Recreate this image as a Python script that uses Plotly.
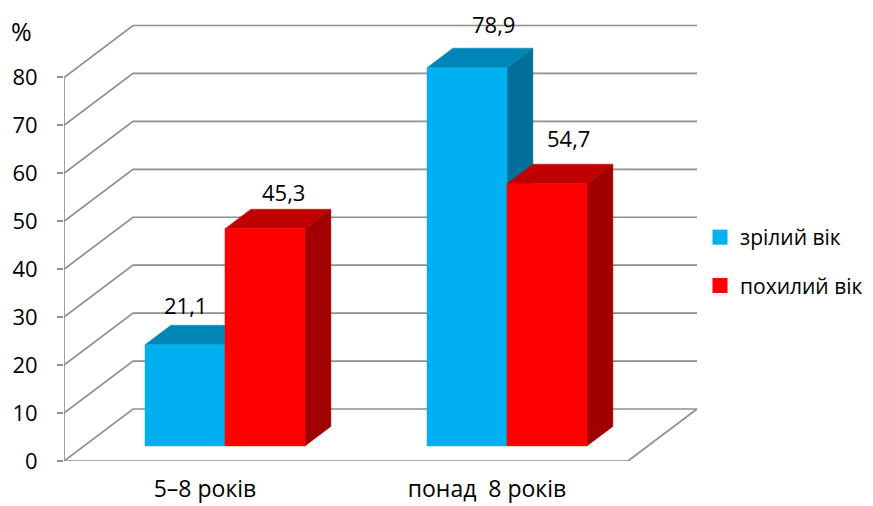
import plotly.graph_objects as go

# ---------------- data ----------------
categories = ["5–8 років", "понад  8 років"]
series_names = ["зрілий вік", "похилий вік"]
mature = [21.1, 78.9]
elderly = [45.3, 54.7]
mature_labels = ["21,1", "78,9"]
elderly_labels = ["45,3", "54,7"]
y_ticks = [0, 10, 20, 30, 40, 50, 60, 70, 80]

# ---------------- styling / geometry ----------------
W, H = 873, 506
ML, MB = 64, 45
PLOT_W, PLOT_H = W - ML, H - MB
PX_X = 282.0          # pixels per category unit
PX_Y = 4.794          # pixels per percent
DX = 69 / PX_X        # full depth offset (x units)
DY = 52 / PX_Y        # full depth offset (y units)
D0 = 0.29             # bar front-face depth fraction
BD = 0.375            # bar depth fraction
BAR_W = 80 / PX_X
FONT = "Open Sans"
GRID = "#8f8f8f"
COLORS = {
    "front": ["#00B0F0", "#FF0000"],
    "top": ["#0086B6", "#C00000"],
    "side": ["#00709B", "#A00000"],
}
label_dx_px = [[0, 26], [18, 21]]
label_dy_px = [[20, 24], [17, 26]]

fig = go.Figure()

# walls / gridlines
gx, gy = [], []
for v in y_ticks:
    gx += [0, DX, len(categories) + DX, None]
    gy += [v, v + DY, v + DY, None]
# floor front and right edges + front vertical axis
gx += [0, len(categories), len(categories) + DX, None, 0, 0]
gy += [0, 0, DY, None, 0, max(y_ticks)]
fig.add_trace(go.Scatter(x=gx, y=gy, mode="lines", line=dict(color=GRID, width=1.7),
                         hoverinfo="skip", showlegend=False))

ox, oy = D0 * DX, D0 * DY
bdx, bdy = BD * DX, BD * DY

for s, values in enumerate([mature, elderly]):
    faces = {"side": ([], []), "top": ([], []), "front": ([], [])}
    for i, v in enumerate(values):
        c = i + 0.5
        x0 = c - BAR_W if s == 0 else c
        x1 = x0 + BAR_W
        x0 += ox
        x1 += ox
        fx, fy = faces["front"]
        fx += [x0, x1, x1, x0, x0, None]
        fy += [oy, oy, v + oy, v + oy, oy, None]
        tx, ty = faces["top"]
        tx += [x0, x1, x1 + bdx, x0 + bdx, x0, None]
        ty += [v + oy, v + oy, v + oy + bdy, v + oy + bdy, v + oy, None]
        sx, sy = faces["side"]
        sx += [x1, x1 + bdx, x1 + bdx, x1, x1, None]
        sy += [oy, oy + bdy, v + oy + bdy, v + oy, oy, None]
    for face in ["side", "top", "front"]:
        xs, ys = faces[face]
        col = COLORS[face][s]
        fig.add_trace(go.Scatter(x=xs, y=ys, mode="lines", fill="toself", fillcolor=col,
                                 line=dict(width=0.5, color=col), hoverinfo="skip",
                                 showlegend=False))

# legend entries
for s, name in enumerate(series_names):
    fig.add_trace(go.Scatter(x=[None], y=[None], mode="markers", name=name,
                             legendgroup=f"g{s}",
                             marker=dict(symbol="square", size=15, color=COLORS["front"][s])))

# value labels
for s, (values, labels) in enumerate([(mature, mature_labels), (elderly, elderly_labels)]):
    for i, (v, lab) in enumerate(zip(values, labels)):
        c = i + 0.5
        xc = (c - BAR_W / 2 if s == 0 else c + BAR_W / 2) + ox + label_dx_px[s][i] / PX_X
        yc = v + oy + bdy
        fig.add_annotation(x=xc, y=yc, text=lab, showarrow=False, yanchor="middle",
                           xanchor="center", yshift=label_dy_px[s][i],
                           font=dict(family=FONT, size=22, color="#000"))

# percent sign
fig.add_annotation(xref="paper", yref="paper", x=(21 - ML) / PLOT_W, y=(PLOT_H - 31) / PLOT_H,
                   text="%", showarrow=False, xanchor="center", yanchor="middle",
                   font=dict(family=FONT, size=25, color="#000"))

fig.update_layout(
    width=W, height=H,
    margin=dict(l=ML, r=0, t=0, b=MB, autoexpand=False),
    paper_bgcolor="white", plot_bgcolor="white",
    font=dict(family=FONT, color="#000"),
    xaxis=dict(range=[0, PLOT_W / PX_X], tickvals=[i + 0.5 for i in range(len(categories))],
               ticktext=categories, showgrid=False, zeroline=False, showline=False,
               ticks="", tickfont=dict(size=23, family=FONT), ticklabelstandoff=12,
               fixedrange=True),
    yaxis=dict(range=[0, PLOT_H / PX_Y], tickvals=y_ticks, ticktext=[str(t) for t in y_ticks],
               showgrid=False, zeroline=False, showline=False, ticks="outside", ticklen=6,
               tickcolor=GRID, tickwidth=1.7, tickfont=dict(size=22, family=FONT),
               ticklabelstandoff=15, fixedrange=True),
    legend=dict(x=(700 - ML) / PLOT_W, y=(PLOT_H - 217) / PLOT_H, xanchor="left", yanchor="top",
                font=dict(size=21, family=FONT), tracegroupgap=18, bgcolor="rgba(0,0,0,0)"),
    showlegend=True,
)

fig.write_html("out.html")
